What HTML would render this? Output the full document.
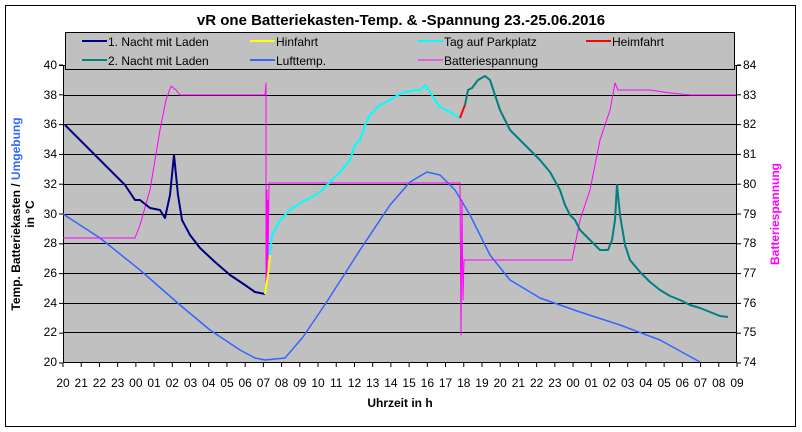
<!DOCTYPE html>
<html><head><meta charset="utf-8"><style>
body{margin:0;background:#fff}
svg{display:block;font-family:"Liberation Sans",Arial,sans-serif}
</style></head><body>
<svg width="802" height="432" viewBox="0 0 802 432">
<rect x="0" y="0" width="802" height="432" fill="#fff"/>
<rect x="5.5" y="5.5" width="790" height="421" fill="#fff" stroke="#000" stroke-width="1"/>
<text x="401" y="25" font-size="15" font-weight="bold" text-anchor="middle">vR one Batteriekasten-Temp. &amp; -Spannung 23.-25.06.2016</text>
<rect x="63" y="65" width="674" height="298" fill="#c0c0c0"/>
<g stroke="#000" stroke-width="1">
<line x1="63" y1="65.5" x2="737" y2="65.5"/><line x1="63" y1="95.5" x2="737" y2="95.5"/><line x1="63" y1="124.5" x2="737" y2="124.5"/><line x1="63" y1="154.5" x2="737" y2="154.5"/><line x1="63" y1="184.5" x2="737" y2="184.5"/><line x1="63" y1="214.5" x2="737" y2="214.5"/><line x1="63" y1="243.5" x2="737" y2="243.5"/><line x1="63" y1="273.5" x2="737" y2="273.5"/><line x1="63" y1="303.5" x2="737" y2="303.5"/><line x1="63" y1="332.5" x2="737" y2="332.5"/><line x1="63" y1="362.5" x2="737" y2="362.5"/>
<line x1="63.5" y1="65" x2="63.5" y2="363"/><line x1="736.5" y1="65" x2="736.5" y2="363"/>
</g>
<g id="ticks" stroke="#000"></g>
<g font-size="12" text-anchor="end">
<text x="57" y="69">40</text><text x="57" y="99">38</text><text x="57" y="128">36</text><text x="57" y="158">34</text><text x="57" y="188">32</text><text x="57" y="218">30</text><text x="57" y="247">28</text><text x="57" y="277">26</text><text x="57" y="307">24</text><text x="57" y="336">22</text><text x="57" y="366">20</text>
</g>
<g font-size="12">
<text x="743" y="69">84</text><text x="743" y="99">83</text><text x="743" y="128">82</text><text x="743" y="158">81</text><text x="743" y="188">80</text><text x="743" y="218">79</text><text x="743" y="247">78</text><text x="743" y="277">77</text><text x="743" y="307">76</text><text x="743" y="336">75</text><text x="743" y="366">74</text>
</g>
<g id="xl" font-size="12" text-anchor="middle"></g>
<text x="400" y="407" font-size="12" font-weight="bold" text-anchor="middle">Uhrzeit in h</text>
<text transform="translate(20,214) rotate(-90)" font-size="12" font-weight="bold" text-anchor="middle"><tspan fill="#000">Temp. Batteriekasten / </tspan><tspan fill="#3366ff">Umgebung</tspan></text>
<text transform="translate(34,214) rotate(-90)" font-size="12" font-weight="bold" text-anchor="middle">in °C</text>
<text transform="translate(779,214) rotate(-90)" font-size="12" font-weight="bold" text-anchor="middle" fill="#ff00ff">Batteriespannung</text>
<g fill="none" stroke-linejoin="round">
<polyline stroke="#3366ff" stroke-width="1.5" points="63,214 100,238 140,270 180,305 210,330 240,350 255,358 265,360 285,358 303,337 326,303 360,250 390,205 410,182 427,172 440,175 455,190 470,215 490,255 510,280 540,298 580,312 620,325 660,340 700,362"/>
<polyline stroke="#ff00ff" stroke-width="1" points="63,238 135,238 140,225 150,190 160,130 166,100 171,86 176,90 180,95 265,95 266,83 266,290 267,190 267,280 268,200 268,260 269,183 460,183 461,335 462,200 463,300 464,260 572,260 580,220 590,190 600,140 610,110 615,83 618,90 650,90 670,93 690,95 736,95"/>
<polyline stroke="#000080" stroke-width="2" points="65,125 80,140 95,155 110,170 125,185 135,200 140,200 150,208 160,210 165,218 170,195 174,155 178,195 182,220 190,235 200,248 215,262 230,275 245,285 255,292 265,294"/>
<polyline stroke="#ffff00" stroke-width="2" points="265,294 268,275 270,255"/>
<polyline stroke="#00ffff" stroke-width="2" points="270,255 272,235 280,220 290,210 300,203 310,198 320,192 330,182 340,172 350,160 355,145 360,140 365,125 370,115 375,110 380,105 390,100 398,95 405,92 415,90 420,90 425,85 430,92 435,100 440,107 450,112 460,118"/>
<polyline stroke="#ff0000" stroke-width="2" points="460,118 463,110 465,105"/>
<polyline stroke="#008080" stroke-width="2" points="465,105 468,90 472,88 478,80 485,76 490,80 495,95 500,110 510,130 520,140 530,150 540,160 550,172 560,190 565,205 570,215 575,220 580,230 590,240 595,245 600,250 608,250 612,240 615,220 617,185 620,215 625,245 630,260 640,272 650,282 660,290 670,296 680,300 690,305 700,308 710,312 720,316 728,317"/>
</g>
<rect x="65.5" y="32.5" width="669" height="37" fill="#c0c0c0" stroke="#000"/>
<g stroke-width="2">
<line x1="82" y1="41" x2="107" y2="41" stroke="#000080"/><line x1="82" y1="60" x2="107" y2="60" stroke="#008080"/>
<line x1="250" y1="41" x2="275" y2="41" stroke="#ffff00"/><line x1="250" y1="60" x2="275" y2="60" stroke="#3366ff"/>
<line x1="418" y1="41" x2="443" y2="41" stroke="#00ffff"/><line x1="418" y1="60" x2="443" y2="60" stroke="#ff00ff" stroke-width="1"/>
<line x1="586" y1="41" x2="611" y2="41" stroke="#ff0000"/>
</g>
<g font-size="12">
<text x="108" y="46">1. Nacht mit Laden</text><text x="108" y="65">2. Nacht mit Laden</text>
<text x="276" y="46">Hinfahrt</text><text x="276" y="65">Lufttemp.</text>
<text x="444" y="46">Tag auf Parkplatz</text><text x="444" y="65">Batteriespannung</text>
<text x="612" y="46">Heimfahrt</text>
</g>
<g stroke="#000"><line x1="59" y1="65.5" x2="63" y2="65.5"/><line x1="737" y1="65.5" x2="741" y2="65.5"/></g>
</svg>
<script>
var ns="http://www.w3.org/2000/svg",t=document.getElementById("ticks"),xl=document.getElementById("xl");
for(var i=0;i<=37;i++){var x=63+i*674/37;var l=document.createElementNS(ns,"line");l.setAttribute("x1",x);l.setAttribute("x2",x);l.setAttribute("y1",363);l.setAttribute("y2",367);t.appendChild(l);
var h=(20+i)%24;var tx=document.createElementNS(ns,"text");tx.setAttribute("x",x);tx.setAttribute("y",387);tx.textContent=(h<10?"0":"")+h;xl.appendChild(tx);}
for(var j=0;j<=10;j++){var y=65+j*29.8;var a=document.createElementNS(ns,"line");a.setAttribute("x1",59);a.setAttribute("x2",63);a.setAttribute("y1",y);a.setAttribute("y2",y);t.appendChild(a);var b=document.createElementNS(ns,"line");b.setAttribute("x1",737);b.setAttribute("x2",741);b.setAttribute("y1",y);b.setAttribute("y2",y);t.appendChild(b);}
</script>
</body></html>
